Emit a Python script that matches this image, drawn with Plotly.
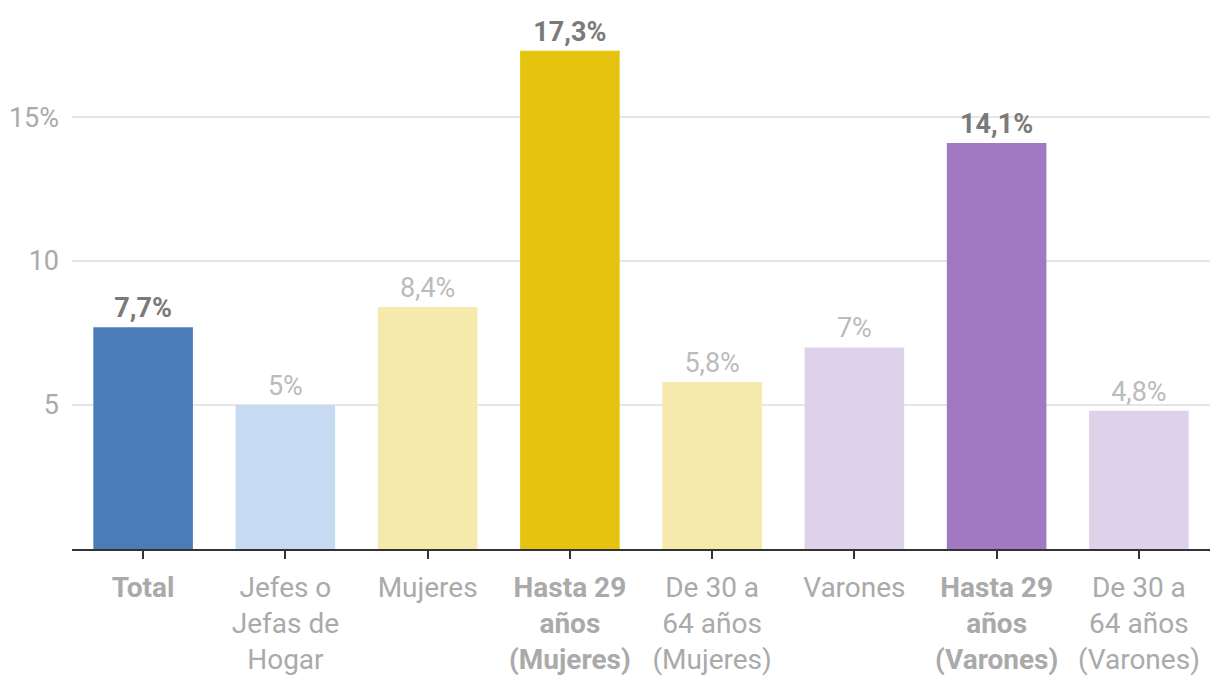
import plotly.graph_objects as go

categories = ["Total", "Jefes o<br>Jefas de<br>Hogar", "Mujeres", "Hasta 29<br>años<br>(Mujeres)",
              "De 30 a<br>64 años<br>(Mujeres)", "Varones", "Hasta 29<br>años<br>(Varones)",
              "De 30 a<br>64 años<br>(Varones)"]
values = [7.7, 5.0, 8.4, 17.3, 5.8, 7.0, 14.1, 4.8]
highlight = [True, False, False, True, False, False, True, False]
colors = ["#4a7db7", "#c6dbf2", "#f5eaab", "#e6c30f", "#f5eaab", "#ded1ea", "#a079c0", "#ded1ea"]
y_ticks = [5, 10, 15]
y_tick_labels = ["5", "10", "15%"]

def fmt(v):
    s = f"{v:.1f}".replace(".", ",")
    if s.endswith(",0"):
        s = s[:-2]
    return s + "%"

texts = [f"<b>{fmt(v)}</b>" if h else fmt(v) for v, h in zip(values, highlight)]
text_colors = ["#7a7a7a" if h else "#bbbbbb" for h in highlight]
ticktext = [f"<b>{c}</b>" if h else c for c, h in zip(categories, highlight)]

x_idx = list(range(len(categories)))

fig = go.Figure(go.Bar(
    x=x_idx, y=values, marker_color=colors, marker_line_width=0,
    text=texts, textposition="outside", cliponaxis=False,
    textfont=dict(color=text_colors, size=27, family="Roboto"),
))

fig.update_layout(
    width=1212, height=690,
    margin=dict(l=64, r=10, t=12, b=149, autoexpand=False),
    plot_bgcolor="white", paper_bgcolor="white",
    bargap=0.3, showlegend=False,
    font=dict(family="Roboto", color="#aaaaaa", size=27),
)
fig.update_xaxes(
    tickmode="array", tickvals=x_idx, ticktext=ticktext,
    showline=True, linecolor="#333333", linewidth=2,
    ticks="outside", ticklen=8, tickwidth=2, tickcolor="#333333",
    tickfont=dict(size=28, color="#aaaaaa", family="Roboto"),
    range=[-0.5, len(categories) - 0.5],
    showgrid=False, automargin=False, ticklabelstandoff=4,
)
fig.update_yaxes(
    range=[0, 18.37], tickmode="array", tickvals=y_ticks, ticktext=y_tick_labels,
    showgrid=True, gridcolor="#e6e6e6", gridwidth=1.5,
    tickfont=dict(size=27, color="#aaaaaa", family="Roboto"),
    zeroline=False, ticks="", ticklabelstandoff=12, automargin=False,
)
fig.write_html("out.html")
